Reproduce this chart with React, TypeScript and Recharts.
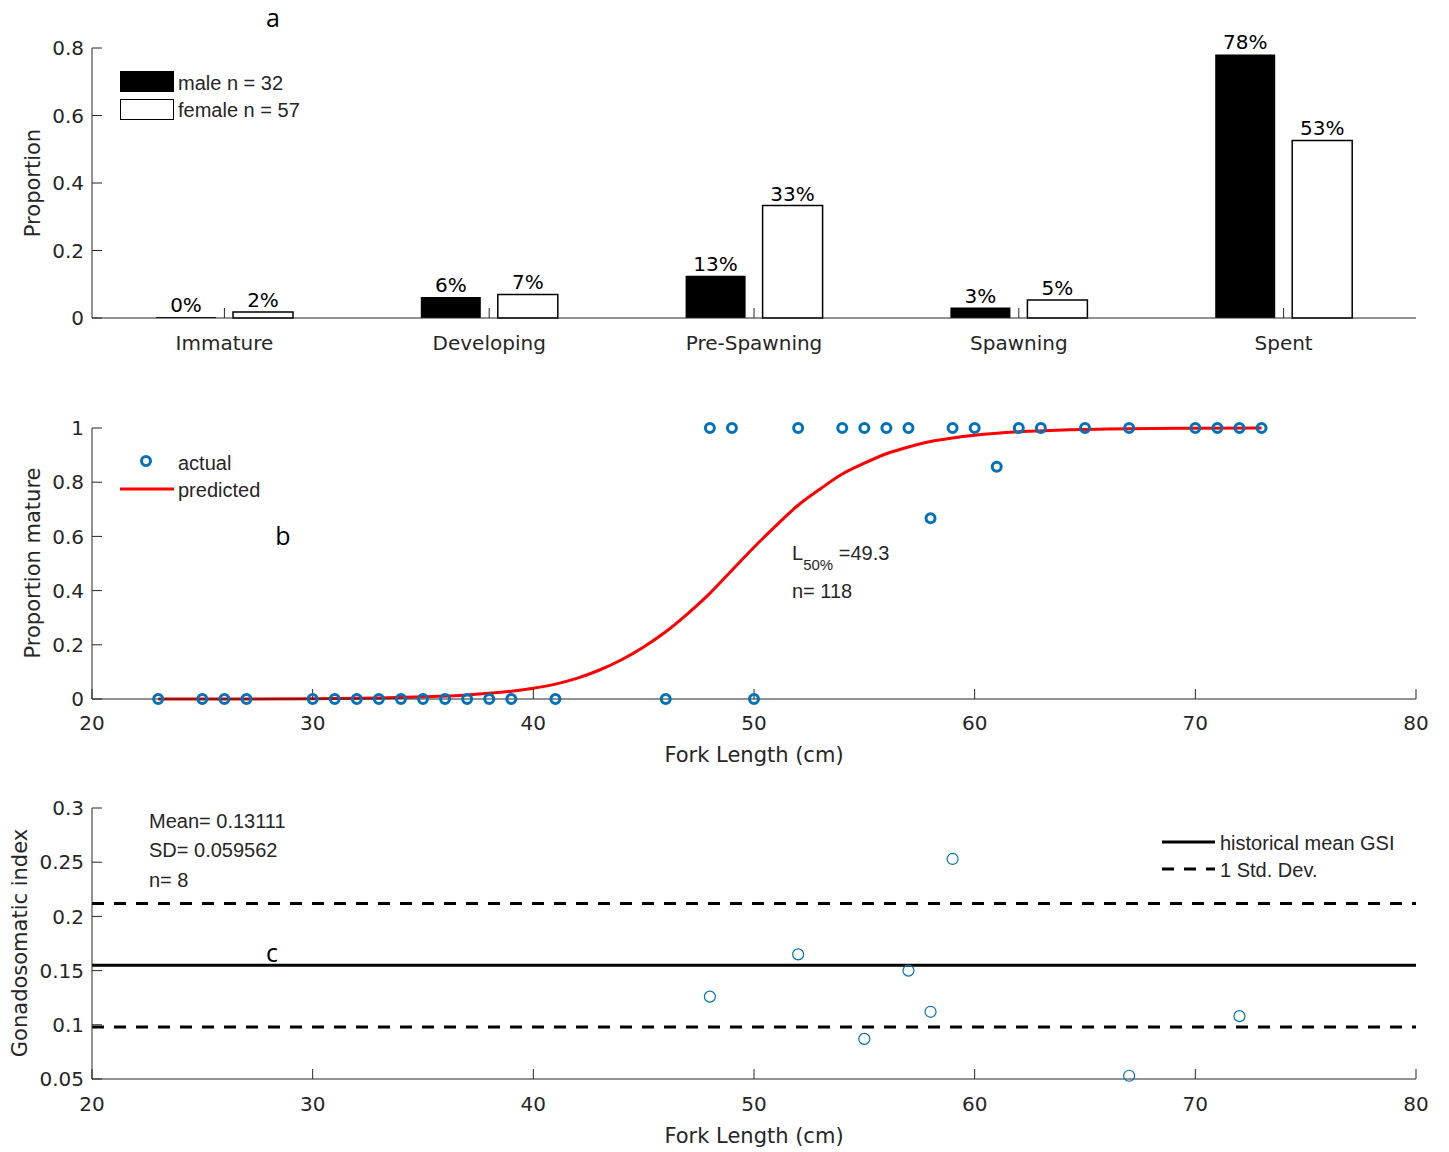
import React from 'react';
import {
  BarChart,
  Bar,
  XAxis,
  YAxis,
  LabelList,
  ComposedChart,
  Scatter,
  Line,
  ReferenceLine,
} from 'recharts';

// panel a - maturity stage proportions
const stages = ['Immature', 'Developing', 'Pre-Spawning', 'Spawning', 'Spent'];
const maleProp = [0, 0.0625, 0.125, 0.031, 0.781];
const femaleProp = [0.018, 0.07, 0.333, 0.053, 0.526];
const maleLabels = ['0%', '6%', '13%', '3%', '78%'];
const femaleLabels = ['2%', '7%', '33%', '5%', '53%'];
const propTicks = [0, 0.2, 0.4, 0.6, 0.8];

// panel b - proportion mature by fork length
const actualLen = [23, 25, 26, 27, 30, 31, 32, 33, 34, 35, 36, 37, 38, 39, 41, 46, 48, 49, 50, 52, 54, 55, 56, 57, 58, 59, 60, 61, 62, 63, 65, 67, 70, 71, 72, 73];
const actualVal = [0, 0, 0, 0, 0, 0, 0, 0, 0, 0, 0, 0, 0, 0, 0, 0, 1, 1, 0, 1, 1, 1, 1, 1, 0.667, 1, 1, 0.857, 1, 1, 1, 1, 1, 1, 1, 1];
const predLen = [23, 26, 30, 33, 35, 37, 38, 39, 40, 41, 42, 43, 44, 45, 46, 47, 48, 49, 50, 51, 52, 53, 54, 55, 56, 57, 58, 59, 60, 62, 64, 66, 68, 70, 73];
const predVal = [0, 0, 0.001, 0.004, 0.008, 0.015, 0.021, 0.029, 0.04, 0.055, 0.077, 0.107, 0.145, 0.192, 0.248, 0.315, 0.39, 0.475, 0.56, 0.64, 0.715, 0.775, 0.83, 0.87, 0.905, 0.93, 0.95, 0.963, 0.973, 0.986, 0.993, 0.996, 0.998, 0.999, 1];
const matureTicks = [0, 0.2, 0.4, 0.6, 0.8, 1];

// panel c - gonadosomatic index
const gsiLen = [48, 52, 55, 57, 58, 59, 67, 72];
const gsiVal = [0.126, 0.165, 0.087, 0.15, 0.112, 0.253, 0.053, 0.108];
const historicalMean = 0.155;
const stdDevBand = [0.098, 0.212];
const gsiTicks = [0.05, 0.1, 0.15, 0.2, 0.25, 0.3];

const lengthTicks = [20, 30, 40, 50, 60, 70, 80];

const barData = stages.map((stage, i) => ({
  stage,
  male: maleProp[i],
  female: femaleProp[i],
  maleLabel: maleLabels[i],
  femaleLabel: femaleLabels[i],
}));
const actualData = actualLen.map((len, i) => ({ len, val: actualVal[i] }));
const predData = predLen.map((len, i) => ({ len, val: predVal[i] }));
const gsiData = gsiLen.map((len, i) => ({ len, val: gsiVal[i] }));

const AXIS = '#262626';
const BLUE = '#0072BD';
const TICK_FONT = 'DejaVu Sans';
const TEXT_FONT = 'Liberation Sans, Arial, sans-serif';
const LETTER_FONT = 'Open Sans, sans-serif';

const tickStyle = { fill: AXIS, fontSize: 20, fontFamily: TICK_FONT };
const barLabelStyle = { fill: '#000', fontSize: 20, fontFamily: TICK_FONT };

const RingDot = (props: any) => (
  <circle cx={props.cx} cy={props.cy} r={4.5} fill="none" stroke={BLUE} strokeWidth={3} />
);
const ThinDot = (props: any) => (
  <circle cx={props.cx} cy={props.cy} r={5.5} fill="none" stroke={BLUE} strokeWidth={1.2} />
);

const abs = (top: number, height: number): React.CSSProperties => ({
  position: 'absolute',
  left: 0,
  top,
  width: 1449,
  height,
});

export default function App() {
  return (
    <div style={{ position: 'absolute', left: 0, top: 0, width: 1449, height: 1152, background: '#fff' }}>
      {/* a */}
      <div style={abs(0, 370)}>
        <BarChart
          width={1449}
          height={370}
          data={barData}
          margin={{ top: 48, right: 33, bottom: 0, left: 0 }}
          barSize={60}
          barGap={17}
        >
          <XAxis
            dataKey="stage"
            height={52}
            interval={0}
            tickSize={-10}
            tickMargin={28}
            tick={tickStyle}
            axisLine={{ stroke: AXIS }}
            tickLine={{ stroke: AXIS }}
          />
          <YAxis
            width={92}
            domain={[0, 0.8]}
            ticks={propTicks}
            tickSize={-10}
            tickMargin={18}
            tick={tickStyle}
            axisLine={{ stroke: AXIS }}
            tickLine={{ stroke: AXIS }}
          />
          <Bar dataKey="male" fill="#000" minPointSize={1} isAnimationActive={false}>
            <LabelList dataKey="maleLabel" position="top" offset={5} style={barLabelStyle} />
          </Bar>
          <Bar dataKey="female" fill="#fff" stroke="#000" strokeWidth={1.5} isAnimationActive={false}>
            <LabelList dataKey="femaleLabel" position="top" offset={5} style={barLabelStyle} />
          </Bar>
        </BarChart>
      </div>

      {/* b */}
      <div style={abs(380, 400)}>
        <ComposedChart width={1449} height={400} margin={{ top: 48, right: 33, bottom: 0, left: 0 }}>
          <XAxis
            dataKey="len"
            type="number"
            domain={[20, 80]}
            ticks={lengthTicks}
            height={81}
            interval={0}
            tickSize={-10}
            tickMargin={27}
            tick={tickStyle}
            axisLine={{ stroke: AXIS }}
            tickLine={{ stroke: AXIS }}
          />
          <YAxis
            dataKey="val"
            width={92}
            domain={[0, 1]}
            ticks={matureTicks}
            tickSize={-10}
            tickMargin={18}
            tick={tickStyle}
            axisLine={{ stroke: AXIS }}
            tickLine={{ stroke: AXIS }}
          />
          <Scatter data={actualData} dataKey="val" shape={RingDot} isAnimationActive={false} />
          <Line
            data={predData}
            dataKey="val"
            type="monotone"
            stroke="#FF0000"
            strokeWidth={3}
            dot={false}
            activeDot={false}
            isAnimationActive={false}
          />
        </ComposedChart>
      </div>

      {/* c */}
      <div style={abs(780, 372)}>
        <ComposedChart width={1449} height={372} margin={{ top: 28, right: 33, bottom: 0, left: 0 }}>
          <XAxis
            dataKey="len"
            type="number"
            domain={[20, 80]}
            ticks={lengthTicks}
            height={73}
            interval={0}
            tickSize={-10}
            tickMargin={28}
            tick={tickStyle}
            axisLine={{ stroke: AXIS }}
            tickLine={{ stroke: AXIS }}
          />
          <YAxis
            dataKey="val"
            width={92}
            domain={[0.05, 0.3]}
            ticks={gsiTicks}
            tickSize={-10}
            tickMargin={18}
            tick={tickStyle}
            axisLine={{ stroke: AXIS }}
            tickLine={{ stroke: AXIS }}
          />
          <ReferenceLine y={stdDevBand[1]} stroke="#000" strokeWidth={3} strokeDasharray="12 10" />
          <ReferenceLine y={historicalMean} stroke="#000" strokeWidth={3} />
          <ReferenceLine y={stdDevBand[0]} stroke="#000" strokeWidth={3} strokeDasharray="12 10" />
          <Scatter data={gsiData} dataKey="val" shape={ThinDot} isAnimationActive={false} />
        </ComposedChart>
      </div>

      {/* titles, legends and notes */}
      <svg width={1449} height={1152} style={{ position: 'absolute', left: 0, top: 0, pointerEvents: 'none' }}>
        <g fontFamily={LETTER_FONT} fontSize={25} fill="#000" textAnchor="middle">
          <text x={273} y={27}>a</text>
          <text x={283} y={545}>b</text>
          <text x={272} y={962}>c</text>
        </g>

        <g fontFamily={TICK_FONT} fontSize={21} fill={AXIS} textAnchor="middle" dominantBaseline="central">
          <text transform="translate(33,183) rotate(-90)">Proportion</text>
          <text transform="translate(33,563) rotate(-90)">Proportion mature</text>
          <text transform="translate(20,943) rotate(-90)">Gonadosomatic index</text>
          <text x={754} y={755}>Fork Length (cm)</text>
          <text x={754} y={1136}>Fork Length (cm)</text>
        </g>

        {/* legend a */}
        <rect x={120} y={71} width={54} height={21} fill="#000" />
        <rect x={120.5} y={99.5} width={53} height={20} fill="#fff" stroke="#000" strokeWidth={1} />
        <g fontFamily={TEXT_FONT} fontSize={20} fill={AXIS} dominantBaseline="central">
          <text x={178} y={83}>male n = 32</text>
          <text x={178} y={110}>female n = 57</text>
        </g>

        {/* legend b */}
        <circle cx={146} cy={461} r={4.5} fill="none" stroke={BLUE} strokeWidth={3} />
        <line x1={120} x2={174} y1={489} y2={489} stroke="#FF0000" strokeWidth={3} />
        <g fontFamily={TEXT_FONT} fontSize={20} fill={AXIS} dominantBaseline="central">
          <text x={178} y={463}>actual</text>
          <text x={178} y={490}>predicted</text>
          <text x={792} y={553}>
            L<tspan fontSize={15} dy={11}>50%</tspan>
            <tspan dy={-11}> =49.3</tspan>
          </text>
          <text x={792} y={591}>n= 118</text>
        </g>

        {/* legend c */}
        <line x1={1162} x2={1215} y1={842} y2={842} stroke="#000" strokeWidth={3} />
        <line x1={1162} x2={1215} y1={869} y2={869} stroke="#000" strokeWidth={3} strokeDasharray="12 10" />
        <g fontFamily={TEXT_FONT} fontSize={20} fill={AXIS} dominantBaseline="central">
          <text x={1220} y={843}>historical mean GSI</text>
          <text x={1220} y={870}>1 Std. Dev.</text>
          <text x={149} y={821}>Mean= 0.13111</text>
          <text x={149} y={850}>SD= 0.059562</text>
          <text x={149} y={880}>n= 8</text>
        </g>
      </svg>
    </div>
  );
}
